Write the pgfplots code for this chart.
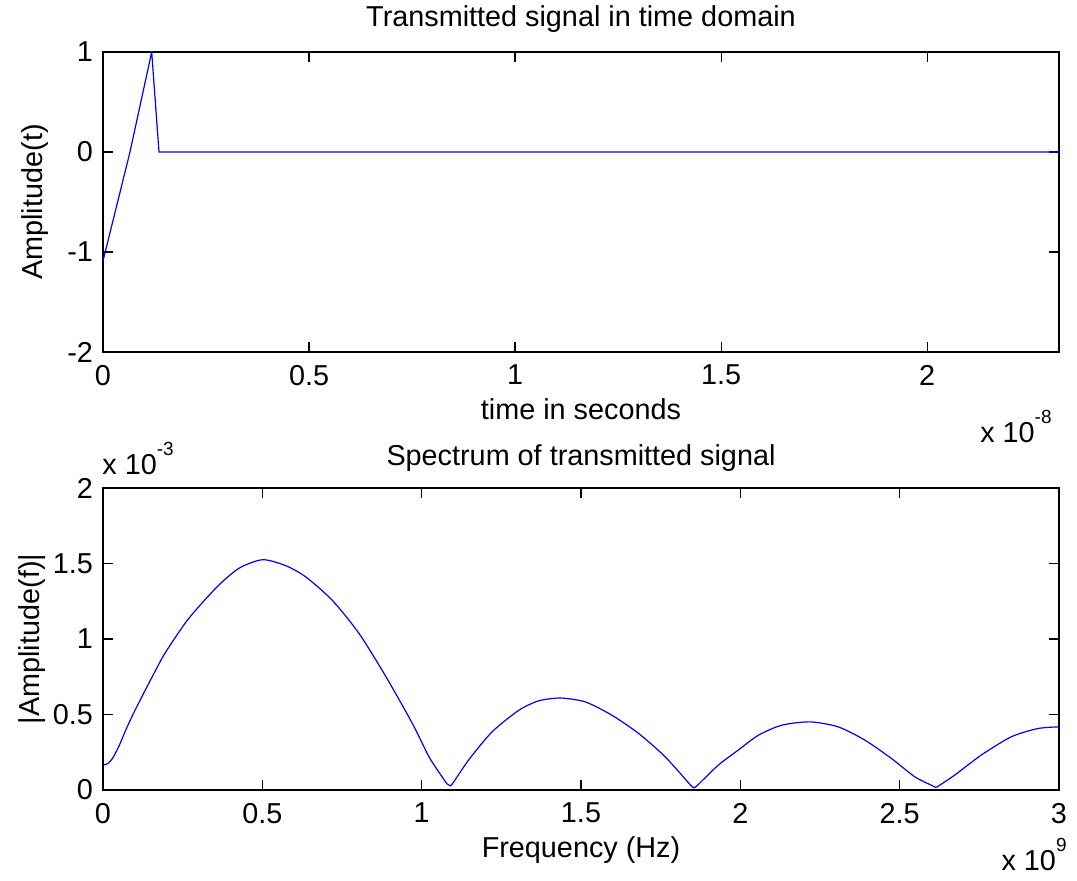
\documentclass[border=0pt]{standalone}
\usepackage{pgfplots}
\pgfplotsset{compat=1.18}
\usepackage{fontspec}
\setmainfont{Liberation Sans}

% MATLAB-like "x 10^n" scale label
\newcommand{\sclab}[1]{x 10\raisebox{9.5pt}{\fontsize{9.5}{10}\selectfont #1}}
\pgfplotsset{
  xtick scale label code/.code={\sclab{#1}},
  ytick scale label code/.code={\sclab{#1}},
  mlab/.style={
    scale only axis, width=478pt,
    axis line style={black, line width=0.6pt},
    every tick/.style={black, line width=0.6pt},
    tick align=inside, major tick length=4.8pt,
    /pgf/number format/assume math mode=true,
    xticklabel style={yshift=-3pt},
    yticklabel style={xshift=-1.5pt},
    every axis x label/.style={at={(axis description cs:0.5,0)}, anchor=base, yshift=-34pt},
    every y tick scale label/.style={at={(axis description cs:0,1)}, anchor=base west, yshift=6.5pt, xshift=1pt, inner sep=0pt},
  },
}

\begin{document}
\begin{tikzpicture}[font=\fontsize{14.4}{17}\selectfont]
\useasboundingbox (-51.5pt,-45.5pt) rectangle (487pt,395pt);

% top: time domain
\begin{axis}[mlab,
  at={(0,219pt)}, anchor=south west, height=150pt,
  xmin=0, xmax=2.32e-8, ymin=-2, ymax=1,
  xtick={0,0.5e-8,1e-8,1.5e-8,2e-8}, ytick={-2,-1,0,1},
  scaled x ticks=base 10:8, scaled y ticks=false,
  every x tick scale label/.style={at={(axis description cs:1,0)}, anchor=base east, yshift=-42.5pt, xshift=-3.5pt, inner sep=0pt},
  every axis y label/.style={at={(axis description cs:0,0.5)}, xshift=-30pt, rotate=90, anchor=base},
  every axis title/.style={at={(axis description cs:0.5,1)}, anchor=base, yshift=12.5pt},
  title={Transmitted signal in time domain},
  xlabel={time in seconds}, ylabel={Amplitude(t)},
]
\addplot[blue, line width=0.6pt, mark=none] coordinates {
  (0,-1.09) (0.0655e-8,0) (0.1182e-8,1) (0.1359e-8,0) (2.32e-8,0)
};
\end{axis}

% bottom: spectrum
\begin{axis}[mlab,
  at={(0,0)}, anchor=south west, height=151pt,
  xmin=0, xmax=3e9, ymin=0, ymax=2e-3,
  xtick={0,0.5e9,1e9,1.5e9,2e9,2.5e9,3e9},
  ytick={0,0.5e-3,1e-3,1.5e-3,2e-3},
  scaled x ticks=base 10:-9, scaled y ticks=base 10:3,
  every x tick scale label/.style={at={(axis description cs:1,0)}, anchor=base east, yshift=-37.5pt, xshift=4pt, inner sep=0pt},
  every axis y label/.style={at={(axis description cs:0,0.5)}, xshift=-31.5pt, rotate=90, anchor=base},
  every axis title/.style={at={(axis description cs:0.5,1)}, anchor=base, yshift=11pt},
  title={Spectrum of transmitted signal},
  xlabel={Frequency (Hz)}, ylabel={|Amplitude(f)|},
]
\addplot[blue, line width=0.6pt, mark=none, smooth, tension=0.45] coordinates {
  (0,0.165e-3) (0.015e9,0.175e-3) (0.03e9,0.21e-3) (0.05e9,0.29e-3)
  (0.07e9,0.39e-3) (0.094e9,0.5e-3) (0.125e9,0.63e-3) (0.157e9,0.76e-3)
  (0.19e9,0.89e-3) (0.23e9,1.02e-3) (0.265e9,1.125e-3) (0.303e9,1.22e-3)
  (0.365e9,1.36e-3) (0.428e9,1.47e-3) (0.501e9,1.525e-3) (0.574e9,1.485e-3)
  (0.637e9,1.41e-3) (0.720e9,1.255e-3) (0.804e9,1.035e-3) (0.888e9,0.75e-3)
  (0.971e9,0.44e-3) (1.023e9,0.22e-3) (1.060e9,0.10e-3) (1.080e9,0.04e-3)
  (1.088e9,0.03e-3) (1.096e9,0.04e-3) (1.148e9,0.20e-3)
  (1.221e9,0.385e-3) (1.305e9,0.528e-3) (1.367e9,0.59e-3) (1.435e9,0.609e-3)
  (1.514e9,0.583e-3) (1.597e9,0.495e-3) (1.681e9,0.374e-3) (1.764e9,0.22e-3)
  (1.845e9,0.03e-3) (1.855e9,0.018e-3) (1.865e9,0.03e-3) (1.931e9,0.165e-3)
  (1.994e9,0.265e-3) (2.057e9,0.363e-3) (2.130e9,0.429e-3) (2.219e9,0.451e-3)
  (2.307e9,0.418e-3) (2.391e9,0.33e-3) (2.474e9,0.209e-3) (2.547e9,0.088e-3)
  (2.603e9,0.028e-3) (2.613e9,0.018e-3) (2.623e9,0.028e-3) (2.673e9,0.099e-3)
  (2.756e9,0.231e-3) (2.850e9,0.352e-3) (2.934e9,0.407e-3) (3e9,0.418e-3)
};
\end{axis}
\end{tikzpicture}
\end{document}
